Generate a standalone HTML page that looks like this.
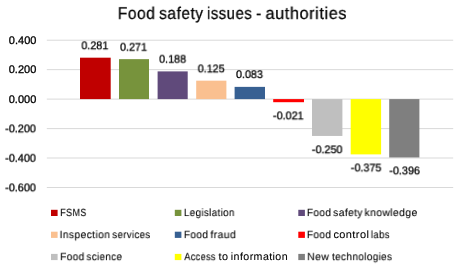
<!DOCTYPE html>
<html><head><meta charset="utf-8">
<style>
html,body{margin:0;padding:0;background:#fff;}
body{width:460px;height:267px;position:relative;overflow:hidden;font-family:"Liberation Sans",sans-serif;color:#000;}
svg{position:absolute;left:0;top:0;}
.t{position:absolute;left:0;top:0;white-space:nowrap;transform-origin:0 0;will-change:transform;}
</style></head><body>
<svg width="460" height="267" viewBox="0 0 460 267">
<rect x="46.8" y="39.70" width="406.4" height="1" fill="#d9d9d9"/>
<rect x="46.8" y="69.15" width="406.4" height="1" fill="#d9d9d9"/>
<rect x="46.8" y="98.60" width="406.4" height="1" fill="#d9d9d9"/>
<rect x="46.8" y="128.10" width="406.4" height="1" fill="#d9d9d9"/>
<rect x="46.8" y="157.50" width="406.4" height="1" fill="#d9d9d9"/>
<rect x="46.8" y="187.00" width="406.4" height="1" fill="#d9d9d9"/>
<rect x="80.00" y="57.68" width="30.70" height="41.42" fill="#c00000"/>
<rect x="119.00" y="59.15" width="30.00" height="39.95" fill="#77933c"/>
<rect x="157.60" y="71.39" width="30.10" height="27.71" fill="#604a7b"/>
<rect x="196.20" y="80.67" width="30.20" height="18.42" fill="#fac090"/>
<rect x="234.60" y="86.87" width="30.40" height="12.23" fill="#376092"/>
<rect x="273.20" y="99.10" width="30.80" height="3.10" fill="#ff0000"/>
<rect x="312.00" y="99.10" width="30.40" height="36.85" fill="#bfbfbf"/>
<rect x="350.70" y="99.10" width="30.40" height="55.28" fill="#ffff00"/>
<rect x="389.20" y="99.10" width="30.20" height="58.37" fill="#7f7f7f"/>
<rect x="51.00" y="209.80" width="6.6" height="6.2" fill="#c00000"/>
<rect x="174.80" y="209.80" width="6.6" height="6.2" fill="#77933c"/>
<rect x="298.30" y="209.80" width="6.6" height="6.2" fill="#604a7b"/>
<rect x="51.00" y="231.70" width="6.6" height="6.2" fill="#fac090"/>
<rect x="174.80" y="231.70" width="6.6" height="6.2" fill="#376092"/>
<rect x="298.30" y="231.70" width="6.6" height="6.2" fill="#ff0000"/>
<rect x="51.00" y="253.90" width="6.6" height="6.2" fill="#bfbfbf"/>
<rect x="174.80" y="253.90" width="6.6" height="6.2" fill="#ffff00"/>
<rect x="298.30" y="253.90" width="6.6" height="6.2" fill="#7f7f7f"/>
</svg>
<div class="t" style="text-rendering:geometricPrecision;letter-spacing:0.6px;-webkit-text-stroke:0.25px #000;font-size:17px;line-height:17px;transform:translate(117.75px,4.92px) scaleX(0.918)">Food</div>
<div class="t" style="text-rendering:geometricPrecision;letter-spacing:0.6px;-webkit-text-stroke:0.25px #000;font-size:17px;line-height:17px;transform:translate(159.17px,4.92px) scaleX(0.908)">safety</div>
<div class="t" style="text-rendering:geometricPrecision;letter-spacing:0.6px;-webkit-text-stroke:0.25px #000;font-size:17px;line-height:17px;transform:translate(206.93px,4.92px) scaleX(0.874)">issues</div>
<div class="t" style="text-rendering:geometricPrecision;letter-spacing:0.6px;-webkit-text-stroke:0.25px #000;font-size:17px;line-height:17px;transform:translate(256.11px,4.92px) scaleX(0.918)">-</div>
<div class="t" style="text-rendering:geometricPrecision;letter-spacing:0.6px;-webkit-text-stroke:0.25px #000;font-size:17px;line-height:17px;transform:translate(265.52px,4.92px) scaleX(0.958)">authorities</div>
<div class="t" style="text-rendering:geometricPrecision;-webkit-text-stroke:0.3px #000;font-size:11px;line-height:11px;transform:translate(8.85px,35.60px) scaleX(1.000)">0.400</div>
<div class="t" style="text-rendering:geometricPrecision;-webkit-text-stroke:0.3px #000;font-size:11px;line-height:11px;transform:translate(8.75px,65.30px) scaleX(1.000)">0.200</div>
<div class="t" style="text-rendering:geometricPrecision;-webkit-text-stroke:0.3px #000;font-size:11px;line-height:11px;transform:translate(8.75px,94.90px) scaleX(1.000)">0.000</div>
<div class="t" style="text-rendering:geometricPrecision;-webkit-text-stroke:0.3px #000;font-size:11px;line-height:11px;transform:translate(5.16px,124.30px) scaleX(0.985)">-0.200</div>
<div class="t" style="text-rendering:geometricPrecision;-webkit-text-stroke:0.3px #000;font-size:11px;line-height:11px;transform:translate(5.16px,153.70px) scaleX(0.985)">-0.400</div>
<div class="t" style="text-rendering:geometricPrecision;-webkit-text-stroke:0.3px #000;font-size:11px;line-height:11px;transform:translate(5.16px,183.30px) scaleX(0.985)">-0.600</div>
<div class="t" style="text-rendering:geometricPrecision;-webkit-text-stroke:0.3px #000;font-size:11px;line-height:11px;transform:translate(81.39px,41.15px) scaleX(0.975)">0.281</div>
<div class="t" style="text-rendering:geometricPrecision;-webkit-text-stroke:0.3px #000;font-size:11px;line-height:11px;transform:translate(120.04px,42.65px) scaleX(0.975)">0.271</div>
<div class="t" style="text-rendering:geometricPrecision;-webkit-text-stroke:0.3px #000;font-size:11px;line-height:11px;transform:translate(159.14px,54.65px) scaleX(0.975)">0.188</div>
<div class="t" style="text-rendering:geometricPrecision;-webkit-text-stroke:0.3px #000;font-size:11px;line-height:11px;transform:translate(197.74px,64.30px) scaleX(0.975)">0.125</div>
<div class="t" style="text-rendering:geometricPrecision;-webkit-text-stroke:0.3px #000;font-size:11px;line-height:11px;transform:translate(235.99px,70.00px) scaleX(0.975)">0.083</div>
<div class="t" style="text-rendering:geometricPrecision;-webkit-text-stroke:0.3px #000;font-size:11px;line-height:11px;transform:translate(272.93px,111.30px) scaleX(0.985)">-0.021</div>
<div class="t" style="text-rendering:geometricPrecision;-webkit-text-stroke:0.3px #000;font-size:11px;line-height:11px;transform:translate(311.81px,145.15px) scaleX(0.985)">-0.250</div>
<div class="t" style="text-rendering:geometricPrecision;-webkit-text-stroke:0.3px #000;font-size:11px;line-height:11px;transform:translate(350.76px,163.35px) scaleX(0.985)">-0.375</div>
<div class="t" style="text-rendering:geometricPrecision;-webkit-text-stroke:0.3px #000;font-size:11px;line-height:11px;transform:translate(389.28px,166.30px) scaleX(0.985)">-0.396</div>
<div class="t" style="text-rendering:geometricPrecision;letter-spacing:0.4px;-webkit-text-stroke:0.1px #000;font-size:10.5px;line-height:10.5px;transform:translate(60.25px,208.03px) scaleX(0.862)">FSMS</div>
<div class="t" style="text-rendering:geometricPrecision;letter-spacing:0.4px;-webkit-text-stroke:0.1px #000;font-size:10.5px;line-height:10.5px;transform:translate(183.90px,208.03px) scaleX(0.933)">Legislation</div>
<div class="t" style="text-rendering:geometricPrecision;letter-spacing:0.4px;-webkit-text-stroke:0.1px #000;font-size:10.5px;line-height:10.5px;transform:translate(306.88px,208.03px) scaleX(0.960)">Food</div>
<div class="t" style="text-rendering:geometricPrecision;letter-spacing:0.4px;-webkit-text-stroke:0.1px #000;font-size:10.5px;line-height:10.5px;transform:translate(333.16px,208.03px) scaleX(0.975)">safety</div>
<div class="t" style="text-rendering:geometricPrecision;letter-spacing:0.4px;-webkit-text-stroke:0.1px #000;font-size:10.5px;line-height:10.5px;transform:translate(364.46px,208.03px) scaleX(0.991)">knowledge</div>
<div class="t" style="text-rendering:geometricPrecision;letter-spacing:0.4px;-webkit-text-stroke:0.1px #000;font-size:10.5px;line-height:10.5px;transform:translate(59.63px,230.12px) scaleX(0.975)">Inspection</div>
<div class="t" style="text-rendering:geometricPrecision;letter-spacing:0.4px;-webkit-text-stroke:0.1px #000;font-size:10.5px;line-height:10.5px;transform:translate(112.27px,230.12px) scaleX(0.918)">services</div>
<div class="t" style="text-rendering:geometricPrecision;letter-spacing:0.4px;-webkit-text-stroke:0.1px #000;font-size:10.5px;line-height:10.5px;transform:translate(183.88px,230.12px) scaleX(0.960)">Food</div>
<div class="t" style="text-rendering:geometricPrecision;letter-spacing:0.4px;-webkit-text-stroke:0.1px #000;font-size:10.5px;line-height:10.5px;transform:translate(210.40px,230.12px) scaleX(0.996)">fraud</div>
<div class="t" style="text-rendering:geometricPrecision;letter-spacing:0.4px;-webkit-text-stroke:0.1px #000;font-size:10.5px;line-height:10.5px;transform:translate(306.88px,230.12px) scaleX(0.960)">Food</div>
<div class="t" style="text-rendering:geometricPrecision;letter-spacing:0.4px;-webkit-text-stroke:0.1px #000;font-size:10.5px;line-height:10.5px;transform:translate(333.38px,230.12px) scaleX(1.047)">control</div>
<div class="t" style="text-rendering:geometricPrecision;letter-spacing:0.4px;-webkit-text-stroke:0.1px #000;font-size:10.5px;line-height:10.5px;transform:translate(370.82px,230.12px) scaleX(0.913)">labs</div>
<div class="t" style="text-rendering:geometricPrecision;letter-spacing:0.4px;-webkit-text-stroke:0.1px #000;font-size:10.5px;line-height:10.5px;transform:translate(60.18px,252.18px) scaleX(0.960)">Food</div>
<div class="t" style="text-rendering:geometricPrecision;letter-spacing:0.4px;-webkit-text-stroke:0.1px #000;font-size:10.5px;line-height:10.5px;transform:translate(86.47px,252.18px) scaleX(0.933)">science</div>
<div class="t" style="text-rendering:geometricPrecision;letter-spacing:0.4px;-webkit-text-stroke:0.1px #000;font-size:10.5px;line-height:10.5px;transform:translate(184.30px,252.18px) scaleX(0.870)">Access</div>
<div class="t" style="text-rendering:geometricPrecision;letter-spacing:0.4px;-webkit-text-stroke:0.1px #000;font-size:10.5px;line-height:10.5px;transform:translate(218.60px,252.18px) scaleX(1.029)">to</div>
<div class="t" style="text-rendering:geometricPrecision;letter-spacing:0.4px;-webkit-text-stroke:0.1px #000;font-size:10.5px;line-height:10.5px;transform:translate(230.84px,252.18px) scaleX(1.015)">information</div>
<div class="t" style="text-rendering:geometricPrecision;letter-spacing:0.4px;-webkit-text-stroke:0.1px #000;font-size:10.5px;line-height:10.5px;transform:translate(307.15px,252.18px) scaleX(0.998)">New</div>
<div class="t" style="text-rendering:geometricPrecision;letter-spacing:0.4px;-webkit-text-stroke:0.1px #000;font-size:10.5px;line-height:10.5px;transform:translate(332.00px,252.18px) scaleX(0.948)">technologies</div>
</body></html>
